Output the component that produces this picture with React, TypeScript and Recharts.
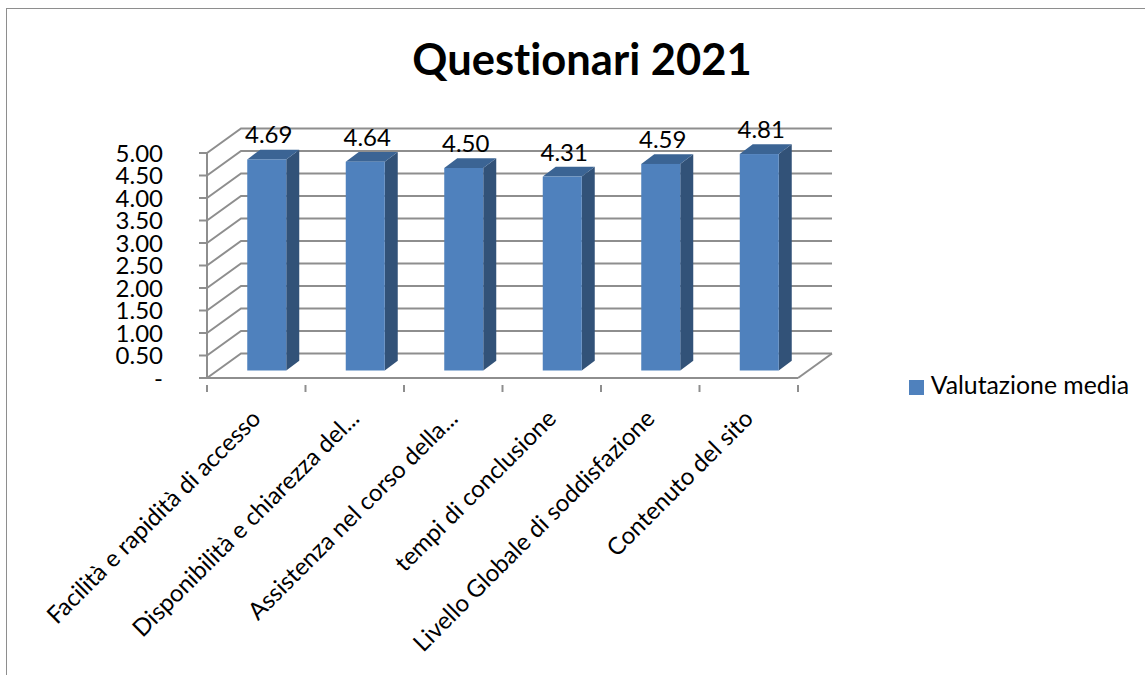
import React from "react";
import { BarChart, Bar, XAxis, YAxis, CartesianGrid, LabelList, Legend } from "recharts";

const categories = [
  "Facilità e rapidità di accesso",
  "Disponibilità e chiarezza del...",
  "Assistenza nel corso della...",
  "tempi di conclusione",
  "Livello Globale di soddisfazione",
  "Contenuto del sito",
];
const ratings = [4.69, 4.64, 4.5, 4.31, 4.59, 4.81];
const valueTicks = [0, 0.5, 1, 1.5, 2, 2.5, 3, 3.5, 4, 4.5, 5];

const rows = categories.map((name, i) => ({ name, rating: ratings[i] }));

const FONT = "Lato, Carlito, sans-serif";
const GRID = "#8e8e8e";
const FRONT = "#4f81bd";
const SIDE = "#325278";
const TOP = "#3b6494";

// Oblique offset from the front plane to the back wall of the 3D box.
const WALL_DX = 34;
const WALL_DY = -24.5;
// Columns sit part way into the box, with a smaller depth of their own.
const COL_SHIFT_X = 10.7;
const COL_SHIFT_Y = -7.5;
const COL_DX = 13;
const COL_DY = -9.8;

const PLOT_LEFT = 207;
const PLOT_WIDTH = 591;
const BAND = PLOT_WIDTH / categories.length;

function Column(props: any) {
  const { x, y, width, height } = props;
  const l = x + COL_SHIFT_X;
  const t = y + COL_SHIFT_Y;
  const r = l + width;
  const b = t + height;
  return (
    <g>
      <polygon
        points={`${r},${t} ${r + COL_DX},${t + COL_DY} ${r + COL_DX},${b + COL_DY} ${r},${b}`}
        fill={SIDE}
      />
      <polygon
        points={`${l},${t} ${l + COL_DX},${t + COL_DY} ${r + COL_DX},${t + COL_DY} ${r},${t}`}
        fill={TOP}
      />
      <rect x={l} y={t} width={width} height={height} fill={FRONT} />
    </g>
  );
}

function WallLine(props: any) {
  const { x1, x2, y1 } = props;
  const isFloor = Math.abs(y1 - 378) < 1;
  const points = `${x1},${y1} ${x1 + WALL_DX},${y1 + WALL_DY} ${x2 + WALL_DX},${y1 + WALL_DY}`;
  return (
    <g>
      <polyline points={points} fill="none" stroke={GRID} strokeWidth={2} />
      {isFloor && (
        <line
          x1={x2}
          y1={y1}
          x2={x2 + WALL_DX}
          y2={y1 + WALL_DY}
          stroke={GRID}
          strokeWidth={2}
        />
      )}
    </g>
  );
}

function CategoryTick(props: any) {
  const { x, y, payload, index } = props;
  const left = PLOT_LEFT + index * BAND;
  return (
    <g>
      <line x1={left} y1={y - 1} x2={left} y2={y + 6} stroke={GRID} strokeWidth={2} />
      {index === categories.length - 1 && (
        <line x1={left + BAND} y1={y - 1} x2={left + BAND} y2={y + 6} stroke={GRID} strokeWidth={2} />
      )}
      <text
        x={x + 6}
        y={y + 34}
        textAnchor="end"
        fontFamily={FONT}
        fontSize={24}
        fill="#000"
        style={{ fontVariantLigatures: "none" }}
        transform={`rotate(-45 ${x + 6} ${y + 34})`}
      >
        {payload.value}
      </text>
    </g>
  );
}

function ValueLabel(props: any) {
  const { x, y, width, value } = props;
  return (
    <text
      x={x + width / 2 + COL_SHIFT_X + 2}
      y={y + COL_SHIFT_Y - 16}
      textAnchor="middle"
      fontFamily={FONT}
      fontSize={24}
      fill="#000"
    >
      {Number(value).toFixed(2)}
    </text>
  );
}

export default function App() {
  return (
    <div style={{ position: "absolute", left: 0, top: 0, width: 1145, height: 675, overflow: "hidden", background: "#fff" }}>
      <div
        style={{
          position: "absolute",
          left: 6,
          top: 8,
          width: 1145,
          height: 675,
          borderLeft: `1.5px solid ${GRID}`,
          borderTop: `1.5px solid ${GRID}`,
        }}
      />
      <BarChart
        width={1145}
        height={675}
        data={rows}
        barCategoryGap="30%"
        margin={{ top: 153, right: 107, bottom: 97, left: 107 }}
        style={{ position: "absolute", left: 0, top: 0 }}
      >
        <text
          x={582}
          y={75}
          textAnchor="middle"
          fontFamily={FONT}
          fontSize={43.5}
          fontWeight={700}
          fill="#000"
          style={{ fontVariantLigatures: "none" }}
        >
          Questionari 2021
        </text>
        <CartesianGrid vertical={false} horizontal={(p: any) => <WallLine key={p.key ?? p.index} {...p} />} />
        <XAxis
          dataKey="name"
          height={200}
          interval={0}
          tickLine={false}
          axisLine={{ stroke: GRID, strokeWidth: 2 }}
          tick={(p: any) => <CategoryTick {...p} />}
        />
        <YAxis
          width={100}
          domain={[0, 5]}
          ticks={valueTicks}
          interval={0}
          tickSize={8}
          tickMargin={36}
          tickLine={{ stroke: GRID, strokeWidth: 2 }}
          axisLine={{ stroke: GRID, strokeWidth: 2 }}
          tick={{ fontFamily: FONT, fontSize: 24, fill: "#000" }}
          tickFormatter={(v: number) => (v === 0 ? "-" : v.toFixed(2))}
        />
        <Legend
          layout="horizontal"
          verticalAlign="middle"
          align="right"
          iconType="square"
          iconSize={15}
          wrapperStyle={{ position: "absolute", left: 899, top: 370, width: 240, fontFamily: FONT, fontSize: 24.8, fontVariantLigatures: "none" }}
          formatter={(v: string) => <span style={{ color: "#000", marginLeft: 3 }}>{v}</span>}
        />
        <Bar dataKey="rating" name="Valutazione media" fill={FRONT} shape={(p: any) => <Column {...p} />} isAnimationActive={false}>
          <LabelList dataKey="rating" content={(p: any) => <ValueLabel {...p} />} />
        </Bar>
      </BarChart>
    </div>
  );
}
